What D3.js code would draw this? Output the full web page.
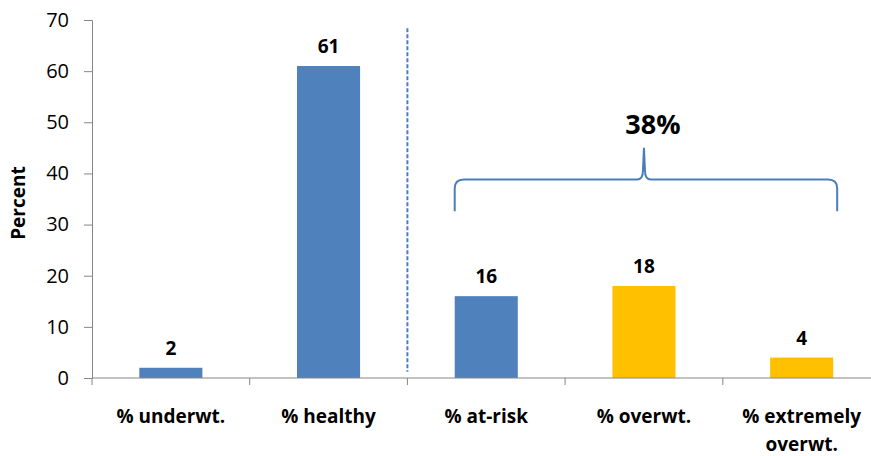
<!DOCTYPE html>
<html>
<head>
<meta charset="utf-8">
<script src="https://cdn.jsdelivr.net/npm/d3@7"></script>
<style>
  body { margin: 0; background: #fff; }
  svg { display: block; font-family: "Open Sans", sans-serif; }
</style>
</head>
<body>
<svg width="871" height="456"></svg>
<script>
const categories = ['% underwt.', '% healthy', '% at-risk', '% overwt.', '% extremely overwt.']
const values = [2, 61, 16, 18, 4]
const groups = ['normal', 'normal', 'normal', 'over', 'over']
const yTicks = [0, 10, 20, 30, 40, 50, 60, 70]
const bracketLabel = '38%'
const bracketFrom = '% at-risk'
const bracketTo = '% extremely overwt.'
const bracketMid = '% overwt.'
const dividerAfter = '% healthy'

const width = 871
const height = 456
const margin = {top: 20, right: -9.5, bottom: 78, left: 92}

const svg = d3.select('svg')

const x = d3.scaleBand()
  .domain(categories)
  .range([margin.left, width - margin.right])
  .paddingInner(0.6)
  .paddingOuter(0.3)

// full-width bands for tick positions
const xb = d3.scaleBand()
  .domain(categories)
  .range([margin.left, width - margin.right])

const y = d3.scaleLinear()
  .domain([0, 70])
  .range([height - margin.bottom, margin.top])

const color = d3.scaleOrdinal()
  .domain(['normal', 'over'])
  .range(['#4f81bd', '#ffc000'])

const axisColor = '#868686'

// y axis
const yAxis = svg.append('g')
  .attr('transform', `translate(${margin.left},0)`)
  .call(d3.axisLeft(y).tickValues(yTicks).tickSize(8).tickPadding(15))
yAxis.select('.domain').attr('stroke', axisColor)
yAxis.selectAll('.tick line').attr('stroke', axisColor)
yAxis.selectAll('.tick text')
  .attr('fill', '#000')
  .style('font-size', '20px')
  .style('font-family', '"Open Sans", sans-serif')

// y title
svg.append('text')
  .attr('transform', `translate(25,${y(34.2)}) rotate(-90)`)
  .attr('text-anchor', 'middle')
  .style('font-size', '19px')
  .style('font-weight', 'bold')
  .text('Percent')

// bars
svg.append('g')
  .selectAll('rect')
  .data(categories)
  .join('rect')
  .attr('x', d => x(d))
  .attr('y', (d, i) => y(values[i]))
  .attr('width', x.bandwidth())
  .attr('height', (d, i) => y(0) - y(values[i]))
  .attr('fill', (d, i) => color(groups[i]))

// value labels
svg.append('g')
  .selectAll('text')
  .data(categories)
  .join('text')
  .attr('x', d => x(d) + x.bandwidth() / 2)
  .attr('y', (d, i) => y(values[i]) - 13)
  .attr('text-anchor', 'middle')
  .style('font-size', '19px')
  .style('font-weight', 'bold')
  .text((d, i) => values[i])

// x axis
const xAxisG = svg.append('g')
  .attr('transform', `translate(0,${y(0)})`)
xAxisG.append('line')
  .attr('x1', margin.left).attr('x2', width)
  .attr('stroke', axisColor)
xAxisG.selectAll('line.tick')
  .data(categories)
  .join('line')
  .attr('class', 'tick')
  .attr('x1', d => xb(d)).attr('x2', d => xb(d))
  .attr('y1', 0).attr('y2', 7)
  .attr('stroke', axisColor)

const labels = xAxisG.selectAll('text')
  .data(categories)
  .join('text')
  .attr('x', d => xb(d) + xb.bandwidth() / 2)
  .attr('y', 45)
  .attr('text-anchor', 'middle')
  .style('font-size', '19px')
  .style('font-weight', 'bold')

labels.each(function(d) {
  const words = d === '% extremely overwt.' ? ['% extremely', 'overwt.'] : [d]
  const t = d3.select(this)
  words.forEach((w, i) => {
    t.append('tspan')
      .attr('x', xb(d) + xb.bandwidth() / 2)
      .attr('dy', i === 0 ? 0 : 28)
      .text(w)
  })
})

// dashed divider
const divX = xb(dividerAfter) + xb.bandwidth()
svg.append('line')
  .attr('x1', divX).attr('x2', divX)
  .attr('y1', y(68.4)).attr('y2', y(1.2))
  .attr('stroke', '#4a7ebb')
  .attr('stroke-width', 2)
  .attr('stroke-dasharray', '4,2')

// bracket
const L = x(bracketFrom)
const R = x(bracketTo) + x.bandwidth() + 4
const M = x(bracketMid) + x.bandwidth() / 2
const yH = y(38.8)
const yEnd = y(32.6)
const yPeak = y(45)
const p = d3.path()
p.moveTo(L, yEnd)
p.lineTo(L, yH + 9)
p.quadraticCurveTo(L, yH, L + 9, yH)
p.lineTo(M - 7, yH)
p.quadraticCurveTo(M - 1, yH, M - 1, yH - 9)
p.lineTo(M, yPeak)
p.lineTo(M + 1, yH - 9)
p.quadraticCurveTo(M + 1, yH, M + 7, yH)
p.lineTo(R - 9, yH)
p.quadraticCurveTo(R, yH, R, yH + 9)
p.lineTo(R, yEnd)
svg.append('path')
  .attr('d', p.toString())
  .attr('fill', 'none')
  .attr('stroke', '#4a7ebb')
  .attr('stroke-width', 2)

svg.append('text')
  .attr('x', M + 9)
  .attr('y', y(47.7))
  .attr('text-anchor', 'middle')
  .style('font-size', '27px')
  .style('font-weight', 'bold')
  .text(bracketLabel)
</script>
</body>
</html>
